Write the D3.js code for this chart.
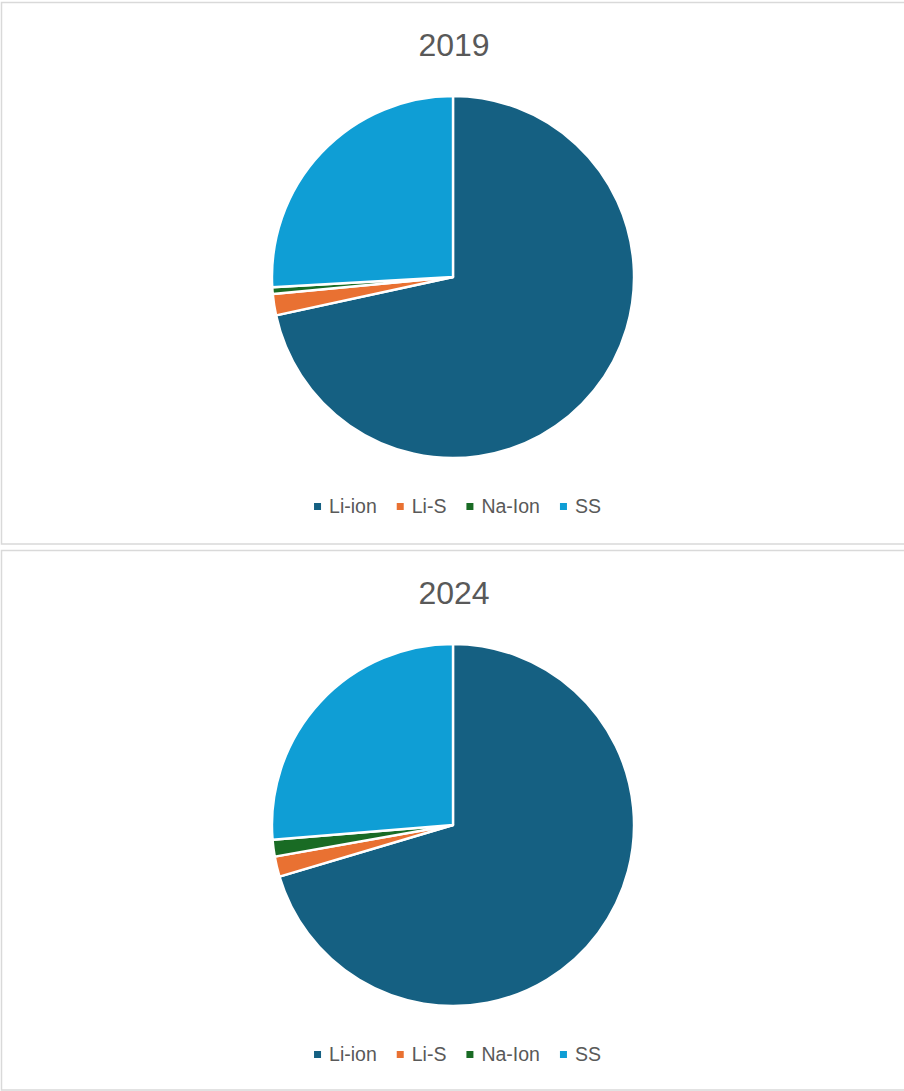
<!DOCTYPE html>
<html>
<head>
<meta charset="utf-8">
<script src="https://cdn.jsdelivr.net/npm/d3@7"></script>
<style>
  body { margin: 0; background: #fff; }
  svg { display: block; }
</style>
</head>
<body>
<svg width="904" height="1091"></svg>
<script>
// battery chemistries and their share (%) per year
var categories = ['Li-ion', 'Li-S', 'Na-Ion', 'SS'];
var years = ['2019', '2024'];
var values2019 = [71.6, 1.9, 0.6, 25.9];
var values2024 = [70.4, 1.8, 1.5, 26.3];
var colors = ['#156082', '#E97132', '#196B24', '#0F9ED5'];

var svg = d3.select("svg");
var panelH = 548;
var radius = 181;

var color = d3.scaleOrdinal().domain(categories).range(colors);

var pie = d3.pie()
    .sort(null)
    .value(function(d) { return d.value; });

var arc = d3.arc().innerRadius(0).outerRadius(radius);

[values2019, values2024].forEach(function(vals, p) {
    var g = svg.append("g").attr("transform", "translate(0," + (p * panelH) + ")");

    g.append("rect")
        .attr("x", 1.5)
        .attr("y", 2.5)
        .attr("width", 910)
        .attr("height", p == 0 ? 541.5 : 539.5)
        .attr("fill", "#fff")
        .attr("stroke", "#d9d9d9")
        .attr("stroke-width", 1.5);

    g.append("text")
        .attr("x", 454)
        .attr("y", 56)
        .attr("text-anchor", "middle")
        .attr("font-family", "Liberation Sans, Arial, sans-serif")
        .attr("font-size", 32)
        .attr("fill", "#595959")
        .text(years[p]);

    var data = categories.map(function(c, i) { return { name: c, value: vals[i] }; });

    g.append("g")
        .attr("transform", "translate(453,277)")
        .selectAll("path")
        .data(pie(data))
        .enter()
        .append("path")
        .attr("d", arc)
        .attr("fill", function(d) { return color(d.data.name); })
        .attr("stroke", "#fff")
        .attr("stroke-width", 2.4)
        .attr("stroke-linejoin", "round");

    // legend, laid out from measured text widths
    var leg = g.append("g").attr("transform", "translate(0,506)");
    var items = leg.selectAll(".item")
        .data(categories)
        .enter()
        .append("g")
        .attr("class", "item");

    items.append("rect")
        .attr("width", 7)
        .attr("height", 7)
        .attr("y", -3)
        .attr("fill", function(d) { return color(d); });

    items.append("text")
        .attr("x", 15)
        .attr("y", 7)
        .attr("font-family", "Liberation Sans, Arial, sans-serif")
        .attr("font-size", 19.5)
        .attr("fill", "#595959")
        .text(function(d) { return d; });

    var x = 0;
    var offsets = [];
    items.each(function() {
        offsets.push(x);
        var w = this.querySelector("text").getComputedTextLength();
        x += 15 + w + 20;
    });
    var total = x - 20;
    var start = 457.5 - total / 2;
    items.attr("transform", function(d, i) { return "translate(" + (start + offsets[i]) + ",0)"; });
});
</script>
</body>
</html>
